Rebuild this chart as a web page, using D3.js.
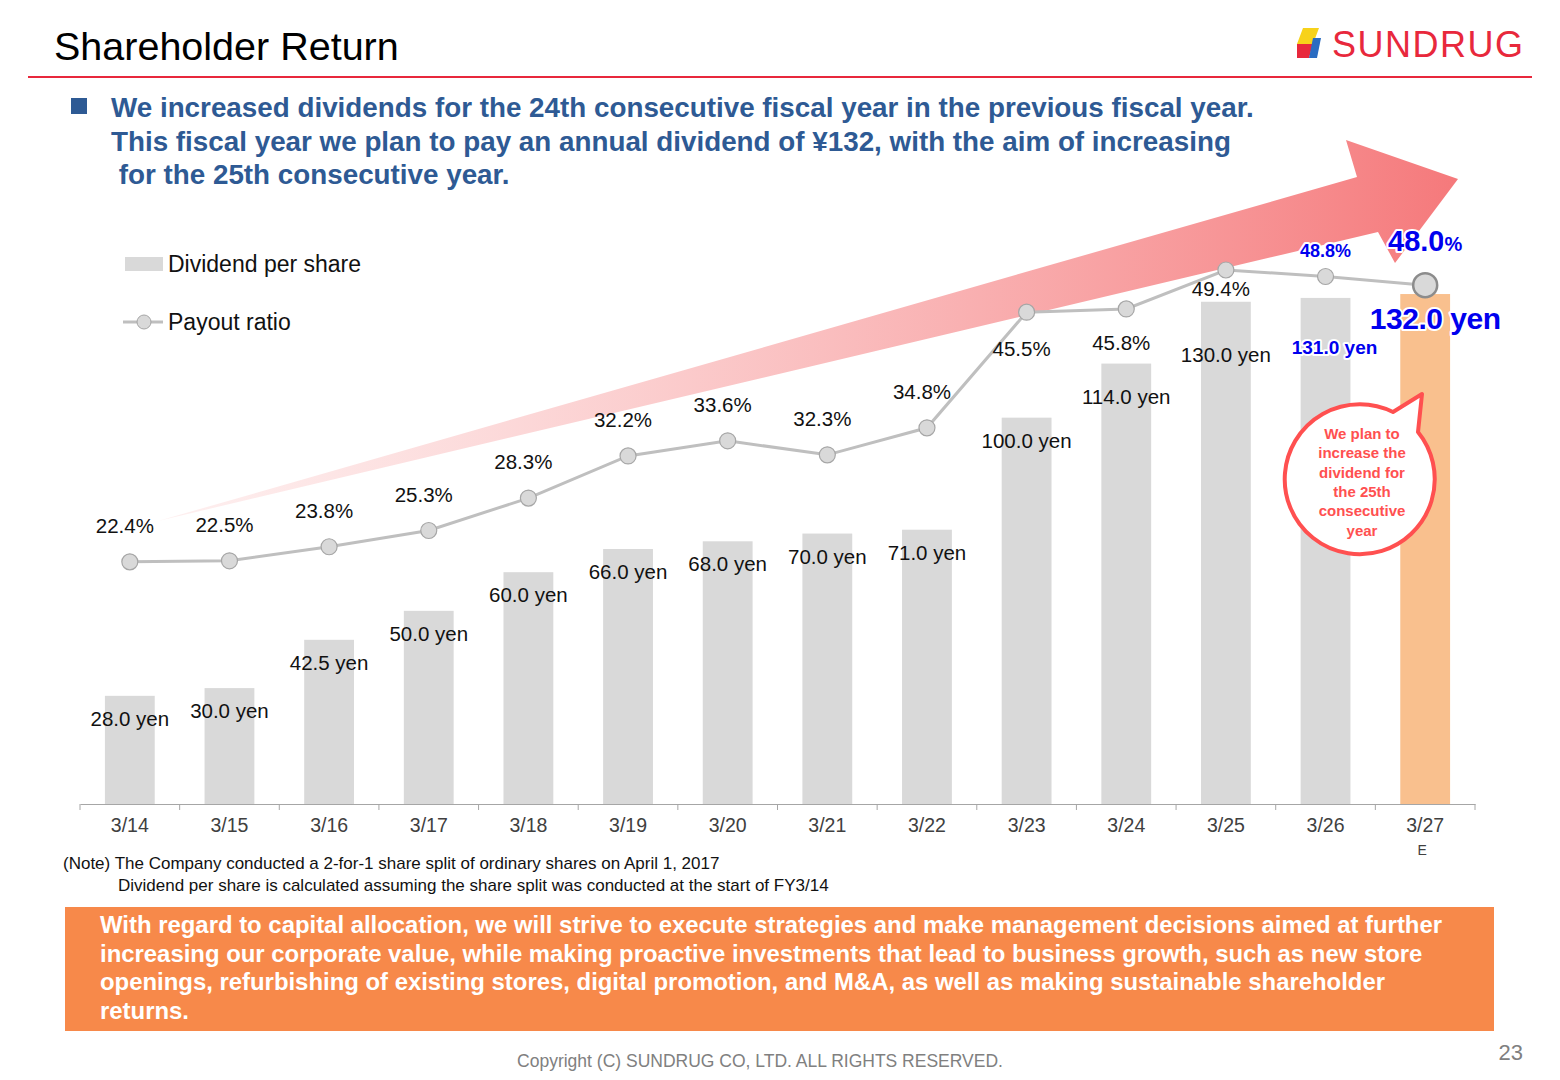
<!DOCTYPE html>
<html><head><meta charset="utf-8">
<script src="https://cdn.jsdelivr.net/npm/d3@7"></script>
<style>body{margin:0;background:#fff}text{font-family:Arial,"Liberation Sans",sans-serif}</style>
</head><body><div id="chart"></div>
<script>
//--------------------------- Data
var years = ["3/14","3/15","3/16","3/17","3/18","3/19","3/20","3/21","3/22","3/23","3/24","3/25","3/26","3/27"];
var dividend = [28.0,30.0,42.5,50.0,60.0,66.0,68.0,70.0,71.0,100.0,114.0,130.0,131.0,132.0];
var payout = [22.4,22.5,23.8,25.3,28.3,32.2,33.6,32.3,34.8,45.5,45.8,49.4,48.8,48.0];

var svg = d3.select("#chart").append("svg").attr("width",1560).attr("height",1080);

//--------------------------- Header
svg.append("text").attr("x",54).attr("y",60).attr("font-size",39.5).attr("fill","#000").text("Shareholder Return");
svg.append("line").attr("x1",28).attr("x2",1532).attr("y1",77).attr("y2",77).attr("stroke","#e8283c").attr("stroke-width",2);
var logo = svg.append("g").attr("transform","translate(1297,28)");
logo.append("path").attr("d","M6,0 L22,0 L16,16 L0,16 Z").attr("fill","#f7d21a");
logo.append("path").attr("d","M0,16 L16,16 L12,30 L0,30 Z").attr("fill","#e8283c");
logo.append("path").attr("d","M16,10 L24,10 L20,30 L12,30 Z").attr("fill","#2a6cc2");
svg.append("text").attr("x",1332).attr("y",57).attr("font-size",36).attr("fill","#e8283c").attr("letter-spacing",1.5).text("SUNDRUG");

svg.append("rect").attr("x",71).attr("y",98).attr("width",16).attr("height",16).attr("fill","#2e5a94");
var hl = ["We increased dividends for the 24th consecutive fiscal year in the previous fiscal year.",
  "This fiscal year we plan to pay an annual dividend of ¥132, with the aim of increasing",
  " for the 25th consecutive year."];
hl.forEach(function(t,i){
  svg.append("text").attr("x",111).attr("y",117+i*33.5).attr("font-size",27.8).attr("font-weight","bold")
    .attr("fill","#2e5a94").attr("xml:space","preserve").text(t);
});

//--------------------------- Scales
var x = d3.scaleBand().domain(years).range([80,1475]).paddingInner(0.5).paddingOuter(0.25);
var yBar = d3.scaleLinear().domain([0,143.4]).range([804,250]);
var yLine = d3.scaleLinear().domain([0,51.25]).range([804,250]);
var cx = function(d){ return x(d)+x.bandwidth()/2; };

//--------------------------- Arrow
var defs = svg.append("defs");
var grad = defs.append("linearGradient").attr("id","ag").attr("x1","0%").attr("x2","100%");
grad.append("stop").attr("offset","0%").attr("stop-color","#fde6e6").attr("stop-opacity",0.6);
grad.append("stop").attr("offset","100%").attr("stop-color","#f5797b");
svg.append("path").attr("d","M158,521 L1357,177 L1346,140 L1458,179 L1395,263 L1378,232 Z").attr("fill","url(#ag)");

//--------------------------- Bars
svg.selectAll("rect.bar").data(dividend).enter().append("rect")
  .attr("x",function(d,i){return x(years[i]);}).attr("width",x.bandwidth())
  .attr("y",function(d){return yBar(d);}).attr("height",function(d){return 804-yBar(d);})
  .attr("fill",function(d,i){return i==13?"#f9c08e":"#d9d9d9";});

//--------------------------- Axis
var ax = svg.append("g").attr("transform","translate(0,804)")
  .call(d3.axisBottom(x).tickSize(6).tickSizeOuter(0));
ax.select(".domain").attr("stroke","#a6a6a6");
ax.selectAll(".tick line").attr("stroke","#a6a6a6").attr("transform","translate("+(-x.step()/2)+",0)");
ax.append("line").attr("x1",1475).attr("x2",1475).attr("y1",0).attr("y2",6).attr("stroke","#a6a6a6");
ax.selectAll(".tick text").attr("font-size",19.5).attr("fill","#404040").attr("dy","0.95em");
svg.append("text").attr("x",cx("3/27")-3).attr("y",855).attr("text-anchor","middle").attr("font-size",14).attr("fill","#404040").text("E");

//--------------------------- Line
var line = d3.line().x(function(d,i){return cx(years[i]);}).y(function(d){return yLine(d);});
svg.append("path").datum(payout).attr("d",line).attr("fill","none").attr("stroke","#bfbfbf").attr("stroke-width",3);
svg.selectAll("circle.pt").data(payout).enter().append("circle")
  .attr("cx",function(d,i){return cx(years[i]);}).attr("cy",function(d){return yLine(d);})
  .attr("r",function(d,i){return i==13?12:8;}).attr("fill","#d9d9d9")
  .attr("stroke",function(d,i){return i==13?"#8c8c8c":"#a6a6a6";}).attr("stroke-width",function(d,i){return i==13?2.5:1.2;});

//--------------------------- Labels
var belowDy = {9:44, 10:41, 11:26};
svg.selectAll("text.pl").data(payout).enter().append("text").filter(function(d,i){return i<12;})
  .attr("x",function(d,i){return cx(years[i])-5;})
  .attr("y",function(d,i){return i>=9?yLine(d)+belowDy[i]:yLine(d)-29;})
  .attr("text-anchor","middle").attr("font-size",20.5).attr("fill","#111")
  .text(function(d){return d.toFixed(1)+"%";});
svg.selectAll("text.bl").data(dividend).enter().append("text").filter(function(d,i){return i<12;})
  .attr("x",function(d,i){return cx(years[i]);})
  .attr("y",function(d,i){return yBar(d)+(i==10?40:i==11?60:30);})
  .attr("text-anchor","middle").attr("font-size",20.5).attr("fill","#111")
  .text(function(d){return d.toFixed(1)+" yen";});

function halo(t){ return t.attr("stroke","#fff").attr("stroke-width",4).attr("paint-order","stroke").attr("stroke-linejoin","round"); }
halo(svg.append("text").attr("x",cx("3/26")).attr("y",yLine(payout[12])-19).attr("text-anchor","middle")
  .attr("font-size",18).attr("font-weight","bold").attr("fill","#0000ee").text(payout[12].toFixed(1)+"%"));
var t48 = halo(svg.append("text").attr("x",cx("3/27")).attr("y",yLine(payout[13])-34).attr("text-anchor","middle")
  .attr("font-weight","bold").attr("fill","#0000ee"));
t48.append("tspan").attr("font-size",29).text(payout[13].toFixed(1));
t48.append("tspan").attr("font-size",20).text("%");
halo(svg.append("text").attr("x",cx("3/26")+9).attr("y",yBar(dividend[12])+56).attr("text-anchor","middle")
  .attr("font-size",19).attr("font-weight","bold").attr("fill","#0000ee").text(dividend[12].toFixed(1)+" yen"));
halo(svg.append("text").attr("x",cx("3/27")+10).attr("y",yBar(dividend[13])+35).attr("text-anchor","middle")
  .attr("font-size",30).attr("font-weight","bold").attr("fill","#0000ee").attr("letter-spacing",-0.5).text(dividend[13].toFixed(1)+" yen"));

//--------------------------- Bubble
svg.append("path").attr("d","M1393,412 L1422,394 L1418,432 A75,75 0 1 1 1393,412 Z")
  .attr("fill","#fff").attr("stroke","#ff5050").attr("stroke-width",4).attr("stroke-linejoin","round");
["We plan to","increase the","dividend for","the 25th","consecutive","year"].forEach(function(t,i){
  svg.append("text").attr("x",1362).attr("y",439+i*19.3).attr("text-anchor","middle").attr("font-size",15)
    .attr("font-weight","bold").attr("fill","#ff5050").text(t);
});

//--------------------------- Legend
svg.append("rect").attr("x",125).attr("y",257).attr("width",38).attr("height",14).attr("fill","#d9d9d9");
svg.append("text").attr("x",168).attr("y",272).attr("font-size",23).attr("fill","#111").text("Dividend per share");
svg.append("line").attr("x1",123).attr("x2",163).attr("y1",322).attr("y2",322).attr("stroke","#bfbfbf").attr("stroke-width",3);
svg.append("circle").attr("cx",144).attr("cy",322).attr("r",7).attr("fill","#d9d9d9").attr("stroke","#a6a6a6");
svg.append("text").attr("x",168).attr("y",330).attr("font-size",23).attr("fill","#111").text("Payout ratio");

//--------------------------- Note
svg.append("text").attr("x",63).attr("y",869).attr("font-size",17).attr("fill","#111").text("(Note) The Company conducted a 2-for-1 share split of ordinary shares on April 1, 2017");
svg.append("text").attr("x",118).attr("y",891).attr("font-size",17).attr("fill","#111").text("Dividend per share is calculated assuming the share split was conducted at the start of FY3/14");

//--------------------------- Box
svg.append("rect").attr("x",65).attr("y",907).attr("width",1429).attr("height",124).attr("fill","#f7894a");
["With regard to capital allocation, we will strive to execute strategies and make management decisions aimed at further",
 "increasing our corporate value, while making proactive investments that lead to business growth, such as new store",
 "openings, refurbishing of existing stores, digital promotion, and M&A, as well as making sustainable shareholder",
 "returns."].forEach(function(t,i){
  svg.append("text").attr("x",100).attr("y",933+i*28.7).attr("font-size",23.9).attr("font-weight","bold").attr("fill","#fff").text(t);
});

svg.append("text").attr("x",760).attr("y",1067).attr("text-anchor","middle").attr("font-size",17.5).attr("fill","#808080").text("Copyright (C)  SUNDRUG CO, LTD. ALL RIGHTS RESERVED.");
svg.append("text").attr("x",1523).attr("y",1060).attr("text-anchor","end").attr("font-size",22).attr("fill","#808080").text("23");
</script></body></html>
